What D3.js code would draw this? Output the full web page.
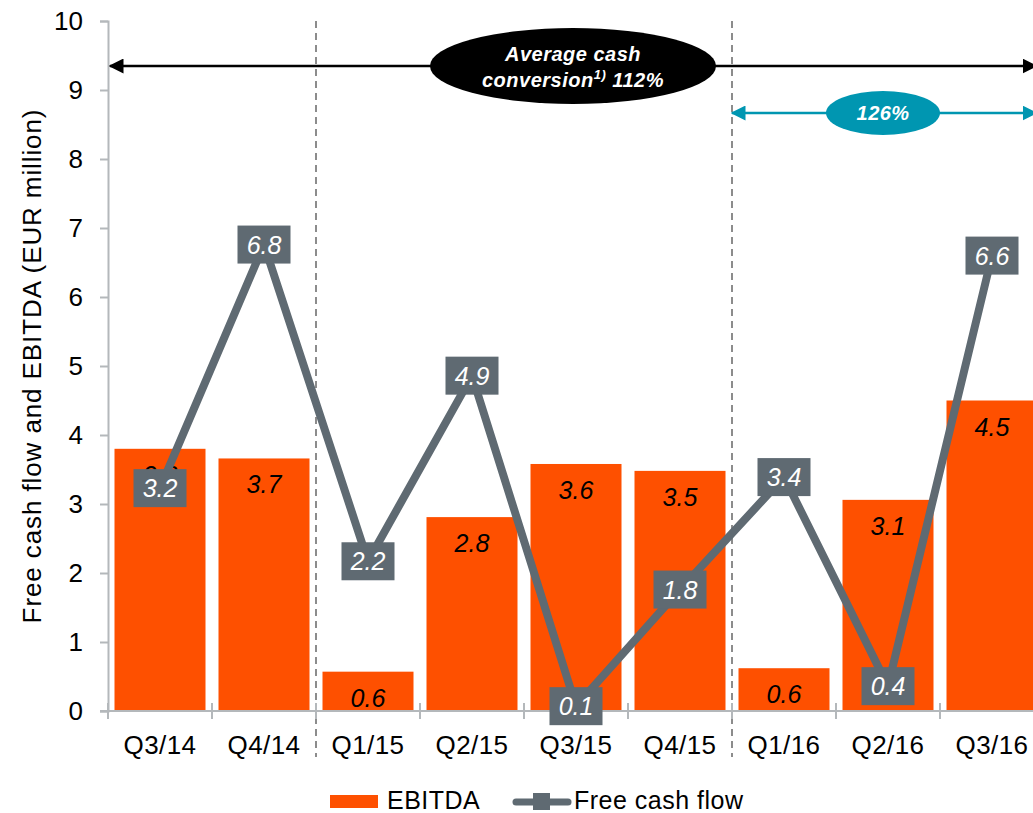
<!DOCTYPE html>
<html><head><meta charset="utf-8">
<script src="https://cdn.jsdelivr.net/npm/d3@7"></script>
<style>body{margin:0;background:#fff;overflow:hidden}svg{display:block;font-family:"Liberation Sans",Arial,sans-serif}</style>
</head><body>
<svg id="c" width="1033" height="813"></svg>
<script>
const categories = ["Q3/14","Q4/14","Q1/15","Q2/15","Q3/15","Q4/15","Q1/16","Q2/16","Q3/16"];
const ebitda = [3.8, 3.66, 0.57, 2.81, 3.58, 3.48, 0.62, 3.06, 4.5];
const fcf = [3.23, 6.76, 2.17, 4.86, 0.07, 1.76, 3.39, 0.36, 6.6];
const yTicks = [0,1,2,3,4,5,6,7,8,9,10];
const dividers = ["Q1/15","Q1/16"];
const seriesNames = ["EBITDA","Free cash flow"];

const ORANGE = "#fe5000", GREY = "#5f6a72", TEAL = "#0096b1";
const svg = d3.select("#c");
const x = d3.scaleBand().domain(categories).range([108, 1044]).paddingInner(0.125).paddingOuter(0.0625);
const xb = d3.scaleBand().domain(categories).range([108, 1044]);
const y = d3.scaleLinear().domain([0,10]).range([711, 21]);
const fmt = d3.format(".1f");

// bars
svg.append("g").selectAll("rect").data(ebitda).join("rect")
  .attr("x",(d,i)=>x(categories[i])).attr("width",x.bandwidth())
  .attr("y",d=>y(d)).attr("height",d=>y(0)-y(d)).attr("fill",ORANGE);
svg.append("g").selectAll("text").data(ebitda).join("text")
  .attr("x",(d,i)=>xb(categories[i])+xb.bandwidth()/2).attr("y",d=>y(d)+35)
  .attr("text-anchor","middle").attr("font-size",25).attr("font-style","italic").attr("fill","#000")
  .text(d=>fmt(d));

// dividers
dividers.forEach(c=>{
  svg.append("line").attr("x1",xb(c)).attr("x2",xb(c)).attr("y1",y(10)).attr("y2",757)
    .attr("stroke","#8c8c8c").attr("stroke-width",2).attr("stroke-dasharray","7,5");
});

// axes
const yAxis = svg.append("g").attr("transform","translate(108,0)")
  .call(d3.axisLeft(y).tickValues(yTicks).tickSize(8).tickPadding(17).tickFormat(d3.format("d")));
yAxis.select(".domain").attr("stroke","#b4b8bb").attr("stroke-width",2);
yAxis.selectAll(".tick line").attr("stroke","#b4b8bb").attr("stroke-width",2);
yAxis.selectAll("text").attr("font-size",26).attr("fill","#000").attr("font-family","Liberation Sans, Arial");

const xg = svg.append("g");
xg.append("line").attr("x1",100).attr("x2",1044).attr("y1",711).attr("y2",711).attr("stroke","#b4b8bb").attr("stroke-width",2);
xg.selectAll("line.t").data(categories).join("line").attr("class","t")
  .attr("x1",d=>xb(d)).attr("x2",d=>xb(d)).attr("y1",703).attr("y2",719)
  .attr("stroke","#b4b8bb").attr("stroke-width",2);
xg.selectAll("text").data(categories).join("text")
  .attr("x",d=>xb(d)+xb.bandwidth()/2).attr("y",754).attr("text-anchor","middle")
  .attr("font-size",26).attr("letter-spacing",0.4).attr("fill","#000").text(d=>d);

svg.append("text").attr("transform","translate(41,366) rotate(-90)").attr("text-anchor","middle")
  .attr("font-size",26).attr("letter-spacing",0.9).attr("fill","#000").text("Free cash flow and EBITDA (EUR million)");

// FCF line
const cx = i => xb(categories[i]) + xb.bandwidth()/2;
svg.append("path").datum(fcf)
  .attr("d", d3.line().x((d,i)=>cx(i)).y(d=>y(d)))
  .attr("fill","none").attr("stroke",GREY).attr("stroke-width",8).attr("stroke-linejoin","round");
const lb = svg.append("g").selectAll("g").data(fcf).join("g")
  .attr("transform",(d,i)=>`translate(${cx(i)},${y(d)})`);
lb.append("rect").attr("x",-26.5).attr("y",-19).attr("width",53).attr("height",38).attr("fill",GREY);
lb.append("text").attr("y",9).attr("text-anchor","middle").attr("font-size",25).attr("font-style","italic")
  .attr("fill","#fff").text(d=>fmt(d));

// annotations
const defs = svg.append("defs");
function marker(id,color){
  defs.append("marker").attr("id",id).attr("viewBox","0 0 10 10").attr("refX",9).attr("refY",5)
    .attr("markerWidth",15).attr("markerHeight",15).attr("markerUnits","userSpaceOnUse")
    .attr("orient","auto-start-reverse").append("path").attr("d","M0,0L10,5L0,10Z").attr("fill",color);
}
marker("ab","#000"); marker("at",TEAL);
svg.append("line").attr("x1",110).attr("x2",1036).attr("y1",66).attr("y2",66)
  .attr("stroke","#000").attr("stroke-width",2.5).attr("marker-start","url(#ab)").attr("marker-end","url(#ab)");
svg.append("ellipse").attr("cx",573).attr("cy",66).attr("rx",143).attr("ry",38).attr("fill","#000");
const t1 = svg.append("text").attr("x",573).attr("text-anchor","middle").attr("font-size",20)
  .attr("letter-spacing",0.5).attr("font-weight","bold").attr("font-style","italic").attr("fill","#fff");
t1.append("tspan").attr("x",573).attr("y",61).text("Average cash");
const l2 = t1.append("tspan").attr("x",573).attr("y",87);
l2.append("tspan").text("conversion");
l2.append("tspan").attr("font-size",13).attr("dy",-8).text("1)");
l2.append("tspan").attr("dy",8).text(" 112%");

svg.append("line").attr("x1",732).attr("x2",1036).attr("y1",113).attr("y2",113)
  .attr("stroke",TEAL).attr("stroke-width",2.5).attr("marker-start","url(#at)").attr("marker-end","url(#at)");
svg.append("ellipse").attr("cx",883).attr("cy",113).attr("rx",57).attr("ry",22).attr("fill",TEAL);
svg.append("text").attr("x",883).attr("y",120).attr("text-anchor","middle").attr("font-size",20)
  .attr("letter-spacing",0.4).attr("font-weight","bold").attr("font-style","italic").attr("fill","#fff").text("126%");

// legend
const lg = svg.append("g");
lg.append("rect").attr("x",330).attr("y",795).attr("width",48).attr("height",13).attr("fill",ORANGE);
lg.append("text").attr("x",387).attr("y",809).attr("font-size",25).attr("letter-spacing",0.5).attr("fill","#000").text(seriesNames[0]);
lg.append("line").attr("x1",516).attr("x2",568).attr("y1",802).attr("y2",802).attr("stroke",GREY).attr("stroke-width",7).attr("stroke-linecap","round");
lg.append("rect").attr("x",533).attr("y",793).attr("width",17).attr("height",17).attr("fill",GREY);
lg.append("text").attr("x",574).attr("y",809).attr("font-size",25).attr("letter-spacing",0.5).attr("fill","#000").text(seriesNames[1]);
</script>
</body></html>
